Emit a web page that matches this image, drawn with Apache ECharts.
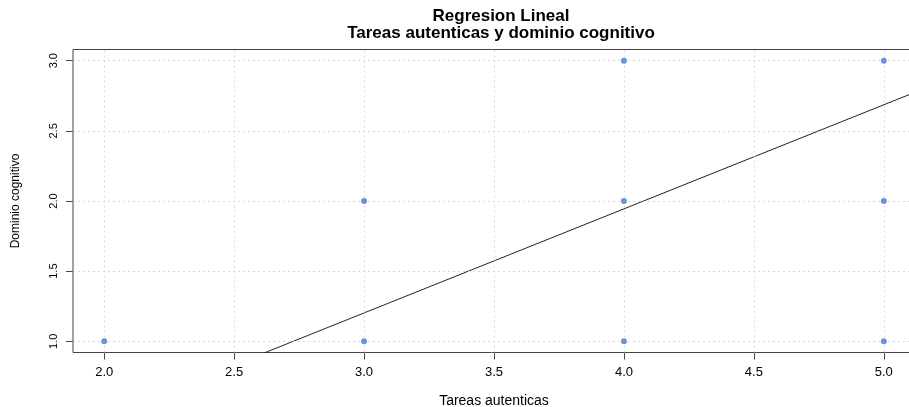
<!DOCTYPE html>
<html>
<head>
<meta charset="utf-8">
<script src="https://cdn.jsdelivr.net/npm/echarts@6/dist/echarts.min.js"></script>
<style>html,body{margin:0;padding:0;background:#fff}#c{width:909px;height:407px}</style>
</head>
<body>
<div id="c"></div>
<script>
var titleLines = ['Regresion Lineal', 'Tareas autenticas y dominio cognitivo'];
var xName = 'Tareas autenticas';
var yName = 'Dominio cognitivo';
var xTicks = [2.0, 2.5, 3.0, 3.5, 4.0, 4.5, 5.0];
var yTicks = [1.0, 1.5, 2.0, 2.5, 3.0];
var tareas = [2, 3, 3, 4, 4, 4, 5, 5, 5];
var dominio = [1, 1, 2, 1, 2, 3, 1, 2, 3];
var lineX = [1.88, 5.12];
var lineY = [0.371, 2.775];

var FONT = 'Liberation Sans, Arial, sans-serif';
var gridLineStyle = {color: '#d9d9d9', type: [2, 3], width: 1, opacity: 1};

var pts = tareas.map(function (x, i) { return [x, dominio[i]]; });
var linePts = lineX.map(function (x, i) { return [x, lineY[i]]; });

var markLines = xTicks.map(function (v) { return {xAxis: v}; })
  .concat(yTicks.map(function (v) { return {yAxis: v}; }));

var chart = echarts.init(document.getElementById('c'), null, {renderer: 'canvas'});
chart.setOption({
  animation: false,
  backgroundColor: '#ffffff',
  title: {
    text: titleLines.join('\n'),
    left: 496, textAlign: 'center', top: 3,
    textStyle: {fontFamily: FONT, fontWeight: 'bold', fontSize: 17, color: '#000', lineHeight: 17}
  },
  grid: {
    left: 73, top: 49.5, width: 842, height: 303,
    outerBoundsMode: 'none', containLabel: false,
    show: true, borderColor: '#444', borderWidth: 1, backgroundColor: 'transparent'
  },
  xAxis: {
    type: 'value', min: 1.88, max: 5.12,
    name: xName, nameLocation: 'middle', nameGap: 42,
    nameTextStyle: {fontFamily: FONT, fontSize: 14, color: '#000'},
    axisLine: {show: false},
    axisTick: {show: true, inside: false, length: 7, lineStyle: {color: '#444'}, customValues: xTicks},
    axisLabel: {show: true, margin: 13, fontFamily: FONT, fontSize: 13, color: '#000',
      customValues: xTicks, formatter: function (v) { return v.toFixed(1); }},
    splitLine: {show: false}
  },
  yAxis: {
    type: 'value', min: 0.92, max: 3.08,
    name: yName, nameLocation: 'middle', nameGap: 51, nameRotate: 90,
    nameTextStyle: {fontFamily: FONT, fontSize: 12, color: '#000'},
    axisLine: {show: false},
    axisTick: {show: true, inside: false, length: 7, lineStyle: {color: '#444'}, customValues: yTicks},
    axisLabel: {show: true, margin: 14, rotate: 90, fontFamily: FONT, fontSize: 11, color: '#000',
      customValues: yTicks, formatter: function (v) { return v.toFixed(1); }},
    splitLine: {show: false}
  },
  series: [
    {
      type: 'line', data: [], silent: true, z: 1,
      markLine: {silent: true, symbol: 'none', label: {show: false}, lineStyle: gridLineStyle,
        emphasis: {disabled: true}, data: markLines, animation: false}
    },
    {
      type: 'line', data: linePts, showSymbol: false, symbol: 'none', clip: true, silent: true,
      lineStyle: {color: '#222', width: 1}, z: 3
    },
    {
      type: 'scatter', data: pts, symbol: 'circle', symbolSize: 6,
      itemStyle: {color: '#6d93d6', opacity: 1, borderWidth: 0}, z: 5
    }
  ]
});
</script>
</body>
</html>
